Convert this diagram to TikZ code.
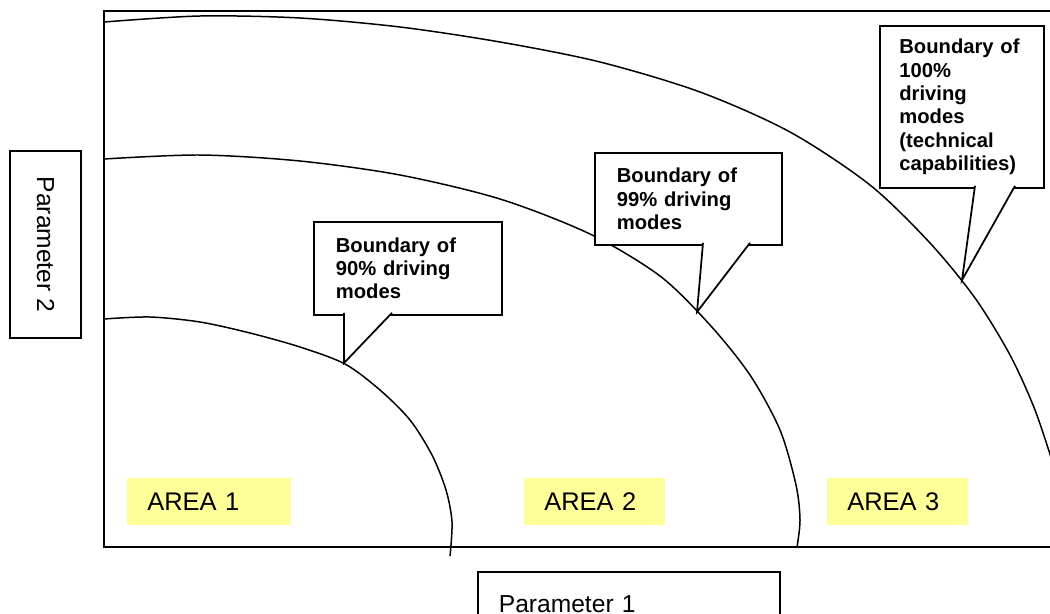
\documentclass[tikz,border=0pt]{standalone}
\usepackage{fontspec}
\setmainfont{Liberation Sans}
\usepackage{tikz}
\definecolor{areayellow}{HTML}{FFFF99}

\begin{document}
\begin{tikzpicture}[
      x = 0.02cm, y = -0.02cm,
      frame/.style = {line width = 1.1pt},
      boundary/.style = {line width = 0.85pt},
      callbox/.style = {
        draw, fill = white, line width = 1pt,
        anchor = north west, inner xsep = 0.44cm, inner ysep = 0pt,
        align = left, font = \fontsize{11.5}{13.3}\selectfont\bfseries},
      pointer/.style = {draw, fill = white, line width = 1pt},
      areabox/.style = {
        fill = areayellow, anchor = north west, inner xsep = 0.4cm,
        inner ysep = 0pt, align = left, text width = 2.02cm,
        minimum height = 0.94cm, font = \fontsize{14.5}{17}\selectfont},
      parbox/.style = {
        draw, line width = 1pt, inner sep = 0pt,
        font = \fontsize{14}{17}\selectfont}
      ]
    \useasboundingbox (0,0) rectangle (1050,613);
    \clip (0,0) rectangle (1050,613);

    % frame of the parameter space
    \coordinate (TL) at (104,11);
    \coordinate (BL) at (104,547);
    \coordinate (TR) at (1052,11);
    \coordinate (BR) at (1052,547);
    \draw[frame] (TR) -- (TL) -- (BL) -- (BR);

    % boundaries
    \draw[boundary] plot[smooth] coordinates {
      (104,319) (150,317) (200,322) (250,333) (300,347) (345,364)
      (380,390) (410,420) (432,455) (446,490) (452,522) (450,556)};
    \draw[boundary] plot[smooth] coordinates {
      (104,159) (200,155) (300,161) (400,175) (500,199) (590,234)
      (660,276) (710,325) (750,375) (780,430) (796,485) (800,520) (797,547)};
    \draw[boundary] plot[smooth] coordinates {
      (104,22) (200,16) (300,18) (400,27) (500,42) (600,62) (700,92)
      (790,132) (870,185) (930,243) (975,298) (1010,355) (1035,410) (1055,470)};

    % callouts
    \node[callbox, minimum width = 3.76cm, minimum height = 1.86cm,
      text width = 2.88cm] (b90) at (313,221) {Boundary of\\90\% driving\\modes};
    \coordinate (b90a) at (344,312.8);
    \coordinate (b90b) at (392,312.8);
    \coordinate (b90t) at (344,363);
    \filldraw[pointer] (b90a) -- (b90t) -- (b90b);

    \node[callbox, minimum width = 3.74cm, minimum height = 1.84cm,
      text width = 2.86cm] (b99) at (594,152) {Boundary of\\99\% driving\\modes};
    \coordinate (b99a) at (703,242.8);
    \coordinate (b99b) at (750,242.8);
    \coordinate (b99t) at (697,312);
    \filldraw[pointer] (b99a) -- (b99t) -- (b99b);

    \node[callbox, minimum width = 3.28cm, minimum height = 3.24cm,
      text width = 2.5cm, inner xsep = 0.39cm] (b100) at (879,25)
      {Boundary of\\100\%\\driving\\modes\\(technical\\capabilities)};
    \coordinate (b100a) at (975,185.8);
    \coordinate (b100b) at (1015,185.8);
    \coordinate (b100t) at (962,280);
    \filldraw[pointer] (b100a) -- (b100t) -- (b100b);

    % areas
    \node[areabox, text width = 2.48cm] (A1) at (127,478) {AREA 1};
    \node[areabox] (A2) at (524,478) {AREA 2};
    \node[areabox] (A3) at (827,478) {AREA 3};

    % axis labels
    \node[parbox, anchor = north west, minimum width = 5.62cm,
      minimum height = 1.4cm, text width = 5.2cm, align = left,
      inner xsep = 0.42cm] (P1) at (477,571) {Parameter 1\vphantom{g}};
    \node[parbox, rotate = -90, minimum width = 3.74cm,
      minimum height = 1.42cm] (P2) at (45.5,244.5) {Parameter 2};
  \end{tikzpicture}
\end{document}
